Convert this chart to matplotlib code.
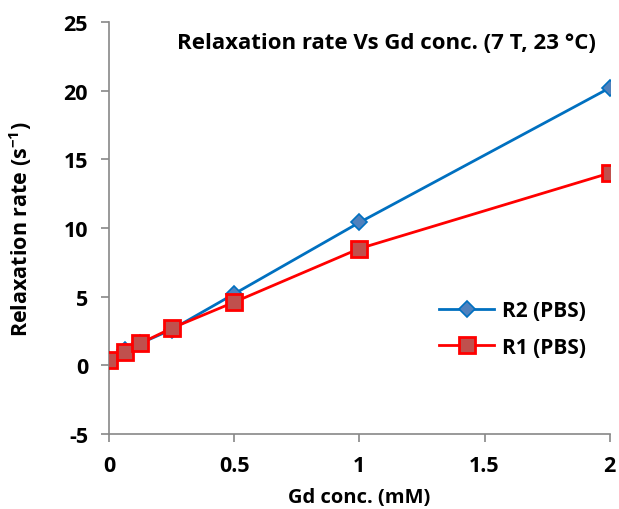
import numpy as np
import matplotlib
matplotlib.use("Agg")
import matplotlib.pyplot as plt

# Data
gd_conc = [0, 0.0625, 0.125, 0.25, 0.5, 1, 2]
r2_pbs = [0.4, 1.1, 1.6, 2.6, 5.2, 10.4, 20.2]
r1_pbs = [0.4, 1.0, 1.6, 2.7, 4.6, 8.5, 14.0]
x_ticks = [0, 0.5, 1, 1.5, 2]
y_ticks = [-5, 0, 5, 10, 15, 20, 25]

plt.rcParams['font.family'] = ['Open Sans', 'DejaVu Sans']
plt.rcParams['font.weight'] = 'bold'
plt.rcParams['axes.unicode_minus'] = False
plt.rcParams['mathtext.fontset'] = 'custom'
plt.rcParams['mathtext.rm'] = 'Open Sans:bold'
plt.rcParams['mathtext.bf'] = 'Open Sans:bold'

fig = plt.figure(figsize=(6.19, 5.10), dpi=100)
ax = fig.add_axes([0.176, 0.147, 0.809, 0.808])

ax.plot(gd_conc, r2_pbs, '-', color='#0070C0', lw=2, marker='D', ms=8,
        mfc='#4F81BD', mec='#0070C0', mew=1.2, label='R2 (PBS)', zorder=3)
ax.plot(gd_conc, r1_pbs, '-', color='#FF0000', lw=2, marker='s', ms=11,
        mfc='#C0504D', mec='#FF0000', mew=2, label='R1 (PBS)', zorder=4)

ax.set_xlim(0, 2)
ax.set_ylim(-5, 25)
ax.set_xticks(x_ticks)
ax.set_xticklabels(['0', '0.5', '1', '1.5', '2'])
ax.set_yticks(y_ticks)

for side in ['top', 'right']:
    ax.spines[side].set_visible(False)
for side in ['left', 'bottom']:
    ax.spines[side].set_color('#888888')
    ax.spines[side].set_linewidth(1.2)
ax.tick_params(direction='out', length=6, width=1.2, color='#888888',
               labelsize=15.5, pad=9)
ax.tick_params(axis='y', pad=9)
for lbl in ax.get_xticklabels() + ax.get_yticklabels():
    lbl.set_fontweight('bold')

ax.set_xlabel('Gd conc. (mM)', fontsize=14.5, fontweight='bold', labelpad=8)
ax.set_ylabel('Relaxation rate (s$^{\\mathbf{-1}}$)', fontsize=15.5, fontweight='bold', labelpad=21)

ax.text(0.555, 0.975, 'Relaxation rate Vs Gd conc. (7 T, 23 °C)', transform=ax.transAxes,
        ha='center', va='top', fontsize=16, fontweight='bold')

ax.legend(loc='center right', bbox_to_anchor=(0.99, 0.255), frameon=False,
          prop={'size': 15, 'weight': 'bold'}, handlelength=2.6, handletextpad=0.4,
          labelspacing=0.75)

fig.savefig('out.png', dpi=100)
